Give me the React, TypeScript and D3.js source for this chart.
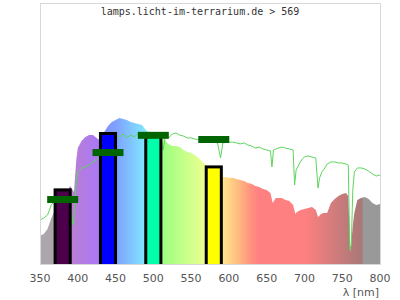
import React from "react";
import * as d3 from "d3";

const TITLE = "lamps.licht-im-terrarium.de > 569";
const X_TICKS = [350, 400, 450, 500, 550, 600, 650, 700, 750, 800];
const X_LABEL = "λ [nm]";

// Lamp spectrum (relative intensity)
const specNm = [350,355,360,365,370,375,380,385,390,395,398,400,405,410,415,420,425,430,435,440,445,450,455,460,465,470,475,480,485,490,495,500,505,510,515,520,525,530,535,540,545,550,555,560,565,570,575,580,585,590,595,600,605,610,615,620,625,630,635,640,645,650,655,658,662,665,670,675,680,685,688,690,695,700,705,710,715,718,722,725,730,735,740,745,750,755,758,761,764,766,770,775,780,785,790,795,800];
const specVal = [10.7,11.5,13.4,17.6,20.7,23.0,25.3,27.6,29.9,27.6,39.8,44.4,47.1,48.7,49.4,49.4,48.3,47.1,50.6,52.9,54.4,55.2,55.9,55.6,55.2,54.4,54.0,53.6,53.3,51.3,50.2,49.8,49.0,48.3,47.5,46.0,45.2,45.2,44.8,43.7,42.9,42.5,41.8,40.6,39.1,37.9,36.0,34.5,33.7,33.3,33.3,33.0,33.0,32.6,32.2,31.8,31.0,30.7,29.9,29.5,28.7,28.4,27.2,23.4,25.3,25.3,25.3,24.5,24.1,22.6,19.2,19.9,20.7,21.1,21.5,21.8,20.7,18.0,19.2,19.5,19.5,23.4,24.9,26.1,26.8,27.2,26.1,4.6,14.9,19.5,24.5,25.3,25.7,24.9,23.4,22.6,23.0];

// Reference (sunlight) curve
const refNm = [350,355,360,365,370,375,380,385,390,394,396,398,400,405,410,415,420,425,430,435,440,445,450,455,460,465,470,475,480,485,490,495,500,505,510,513,516,520,525,530,535,540,545,550,555,560,565,570,575,580,585,589,592,600,605,610,615,620,625,630,635,640,645,650,655,657,659,665,670,675,680,685,687,689,693,697,700,705,710,715,718,720,723,727,730,735,740,745,750,755,758,760,762,764,766,770,775,780,785,790,795,800];
const refVal = [16.9,17.6,18.8,22.6,24.5,25.3,24.5,22.6,20.7,14.9,22.6,32.2,35.2,36.8,37.2,37.9,39.1,39.8,41.8,44.4,47.5,49.0,49.4,48.7,49.8,48.3,49.4,48.7,50.2,49.4,49.8,50.2,49.4,49.0,48.3,43.7,49.0,48.3,49.8,50.2,49.4,49.0,48.3,48.3,47.9,47.5,47.1,47.1,46.7,46.7,46.4,40.6,46.4,46.7,46.7,46.4,46.0,46.4,45.6,45.2,44.4,44.8,44.1,43.7,43.3,37.2,43.7,44.4,44.8,44.4,44.1,43.7,30.3,36.0,38.3,40.2,41.0,41.4,41.0,40.6,29.1,32.9,35.2,36.8,38.3,39.1,39.1,38.7,38.7,38.3,37.9,5.4,7.3,28.4,35.2,36.8,36.8,36.4,35.6,34.5,33.7,34.1];

// Bands (bars)
const bandStart = [370, 430, 490, 570];
const bandEnd = [390, 450, 510, 590];
const bandVal = [28.4, 50.0, 49.2, 37.2];
const bandMarker = [24.7, 42.7, 49.3, 47.7];
const bandColor = ["#4c004c", "#0000ff", "#00ffa8", "#ffff00"];

const gradStops: [number, string][] = [
  [350, "#aca6ac"], [378, "#aca6ac"], [380, "#c080c8"], [430, "#a878f8"],
  [432, "#8090ff"], [450, "#80a0ff"], [490, "#80e8ff"], [492, "#80ffb0"],
  [510, "#98ff80"], [565, "#e8ff90"], [575, "#ffff80"], [590, "#ffe890"],
  [610, "#ffc080"], [630, "#ff9080"], [640, "#ff8080"], [700, "#ff8080"],
  [776, "#a87878"], [778, "#999999"], [800, "#999999"],
];

export default function App() {
  const W = 400, H = 300;
  const left = 40, right = 380, top = 3, bottom = 264;
  const x = d3.scaleLinear().domain([350, 800]).range([left, right]);
  const y = d3.scaleLinear().domain([0, 100]).range([bottom, top]);

  const spec = specNm.map((n, i) => [n, specVal[i]] as [number, number]);
  const ref = refNm.map((n, i) => [n, refVal[i]] as [number, number]);

  const area = d3.area<[number, number]>()
    .x(d => x(d[0])).y0(bottom).y1(d => y(d[1]));
  const line = d3.line<[number, number]>()
    .x(d => x(d[0])).y(d => y(d[1]));

  const mono = "'DejaVu Sans Mono', monospace";
  const sans = "'DejaVu Sans', sans-serif";

  return (
    <svg width={W} height={H} style={{ position: "absolute", left: 0, top: 0, background: "#fff" }}>
      <defs>
        <linearGradient id="specGrad" gradientUnits="userSpaceOnUse" x1={x(350)} x2={x(800)} y1={0} y2={0}>
          {gradStops.map(([n, c], i) => (
            <stop key={i} offset={(n - 350) / 450} stopColor={c} />
          ))}
        </linearGradient>
        <clipPath id="plotClip">
          <rect x={left} y={top} width={right - left} height={bottom - top} />
        </clipPath>
      </defs>
      <text x={200} y={14.5} textAnchor="middle" fontFamily={mono} fontSize={10} fill="#333">{TITLE}</text>
      <g clipPath="url(#plotClip)">
        <path d={area(spec) || ""} fill="url(#specGrad)" />
        <path d={line(ref) || ""} fill="none" stroke="#5cd65c" strokeWidth={1} />
        {bandStart.map((s, i) => (
          <rect key={i} x={x(s)} y={y(bandVal[i])} width={x(bandEnd[i]) - x(s)} height={bottom - y(bandVal[i]) + 2}
            fill={bandColor[i]} stroke="#000" strokeWidth={3} />
        ))}
        {bandStart.map((s, i) => {
          const c = (s + bandEnd[i]) / 2;
          return (
            <rect key={"m" + i} x={x(c - 20.5)} y={y(bandMarker[i]) - 3.5} width={x(c + 20.5) - x(c - 20.5)} height={7} fill="#006400" />
          );
        })}
      </g>
      <rect x={left + 0.5} y={top + 0.5} width={right - left} height={bottom - top} fill="none" stroke="#d8d8d8" strokeWidth={1} />
      {X_TICKS.map(t => (
        <text key={t} x={x(t)} y={282} textAnchor="middle" fontFamily={sans} fontSize={11} fill="#555">{t}</text>
      ))}
      <text x={379} y={296} textAnchor="end" fontFamily={sans} fontSize={11} fill="#555">{X_LABEL}</text>
    </svg>
  );
}
